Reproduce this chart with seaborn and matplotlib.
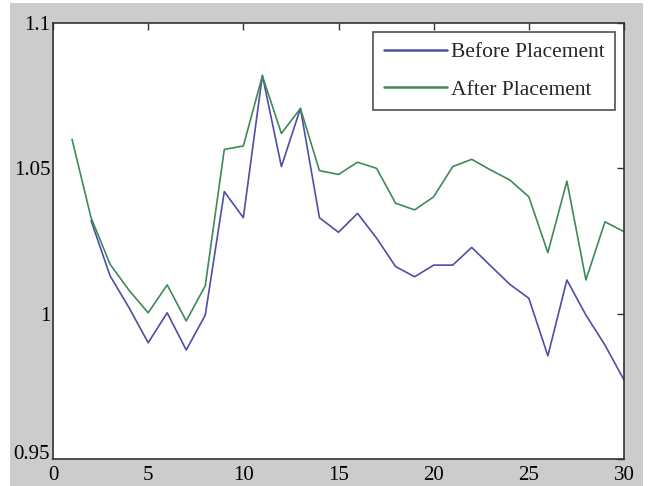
import matplotlib
matplotlib.use("Agg")
import matplotlib.pyplot as plt
import seaborn as sns
import pandas as pd
from matplotlib.patches import Rectangle

x_vals = list(range(1, 31))
before = [None, 1.032, 1.013, 1.002, 0.990, 1.0003, 0.9875, 0.9995, 1.042, 1.033,
          1.082, 1.0506, 1.0706, 1.033, 1.028, 1.0345, 1.026, 1.0162, 1.0127, 1.0167,
          1.0167, 1.0228, 1.0164, 1.0101, 1.0053, 0.9855, 1.0116, 0.9995, 0.9892, 0.9772]
after = [1.060, 1.033, 1.017, 1.008, 1.0003, 1.0099, 0.9975, 1.0096, 1.0565, 1.0577,
         1.0818, 1.062, 1.0706, 1.0492, 1.0479, 1.0521, 1.050, 1.038, 1.0357, 1.0402,
         1.0506, 1.0531, 1.0494, 1.046, 1.0402, 1.021, 1.0456, 1.0116, 1.0316, 1.0282]
x_ticks = [0, 5, 10, 15, 20, 25, 30]
y_ticks = [0.95, 1.0, 1.05, 1.1]
y_tick_labels = ["0.95", "1", "1.05", "1.1"]

df = pd.DataFrame({"x": x_vals, "Before Placement": before, "After Placement": after})
long = df.melt(id_vars="x", var_name="series", value_name="y").dropna()

sns.set_style("white")
plt.rcParams["font.family"] = ["Liberation Serif", "DejaVu Serif"]

fig = plt.figure(figsize=(6.49, 4.86), dpi=100, facecolor="white")
fig.patches.append(Rectangle((10 / 649, 0), 633 / 649, 1 - 3 / 486,
                             transform=fig.transFigure, facecolor="#cccccc",
                             edgecolor="none", zorder=-10))
ax = fig.add_axes([53 / 649, 1 - 459 / 486, (624 - 53) / 649, (459 - 23) / 486])
ax.set_zorder(5)
ax.set_facecolor("white")

palette = {"Before Placement": "#4e4ea8", "After Placement": "#3f8a55"}
sns.lineplot(data=long, x="x", y="y", hue="series", palette=palette,
             hue_order=["Before Placement", "After Placement"],
             linewidth=1.2, ax=ax)

ax.set_xlim(0, 30)
ax.set_ylim(0.95, 1.1)
ax.set_xticks(x_ticks)
ax.set_yticks(y_ticks)
ax.set_yticklabels(y_tick_labels)
ax.set_xlabel("")
ax.set_ylabel("")
ax.tick_params(direction="in", length=5, width=1, colors="#333333",
               labelcolor="black", labelsize=15, top=True, right=True, pad=2)
ax.tick_params(axis="x", pad=5)
ax.get_yticklabels()[0].set_verticalalignment("baseline")
for s in ax.spines.values():
    s.set_color("#333333")
    s.set_linewidth(1.2)
    s.set_visible(True)

leg = ax.legend(loc="upper right", fontsize=15.5, frameon=True, fancybox=False,
                handlelength=2.9, handletextpad=0.2, labelspacing=0.8,
                borderpad=0.5, borderaxespad=0.4)
leg.get_frame().set_edgecolor("#222222")
leg.get_frame().set_linewidth(1.2)
for h in leg.get_lines():
    h.set_linewidth(1.8)

fig.savefig("out.png", dpi=100, facecolor="white")
